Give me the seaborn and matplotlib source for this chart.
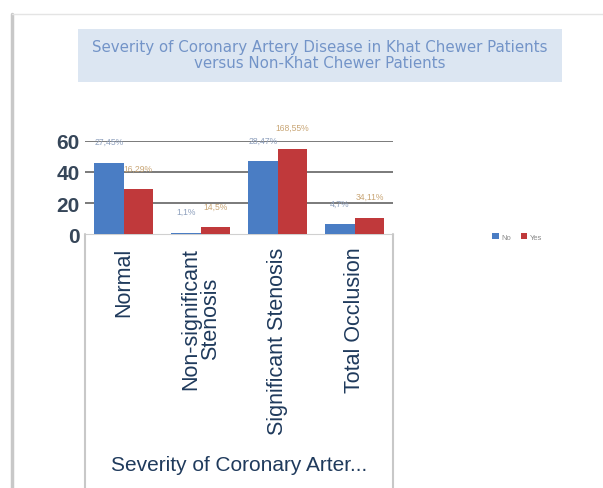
import matplotlib
matplotlib.use('Agg')
import matplotlib.pyplot as plt
import seaborn as sns
import pandas as pd
from matplotlib.lines import Line2D
from matplotlib.patches import Rectangle

# Data
categories = ["Normal", "Non-significant\nStenosis", "Significant Stenosis", "Total Occlusion"]
no_values = [46, 1, 47, 6.5]
yes_values = [29, 4.5, 55, 10.5]
no_labels = ["27,45%", "1,1%", "28,47%", "4,7%"]
yes_labels = ["16,29%", "14,5%", "168,55%", "34,11%"]
groups = ["No", "Yes"]
y_ticks = [0, 20, 40, 60]

df = pd.DataFrame({
    "category": categories * 2,
    "group": [groups[0]] * len(categories) + [groups[1]] * len(categories),
    "value": no_values + yes_values,
})

sns.set_style("white")
plt.rcParams['font.family'] = ['Liberation Sans', 'DejaVu Sans']

fig = plt.figure(figsize=(6.03, 4.89), dpi=100)

# outer frame of the screenshot
fig.add_artist(Line2D([0.020, 0.020], [0.0, 0.970], color="#c8c8c8", lw=2.5))
fig.add_artist(Line2D([0.020, 1.0], [0.970, 0.970], color="#e4e4e4", lw=1))

# title box
fig.add_artist(Rectangle((0.129, 0.830), 0.803, 0.109, facecolor="#dce6f2",
                         edgecolor="none", transform=fig.transFigure))
fig.text(0.530, 0.886, "Severity of Coronary Artery Disease in Khat Chewer Patients\nversus Non-Khat Chewer Patients",
         ha="center", va="center", fontsize=10.8, color="#7394c8", linespacing=1.05,
         family="DejaVu Sans")

ax = fig.add_axes([0.141, 0.519, 0.511, 0.191])
sns.barplot(data=df, x="category", y="value", hue="group", hue_order=groups,
            palette=["#4a7dc4", "#c0393b"], width=0.77, saturation=1,
            linewidth=0, ax=ax, zorder=3)

ax.set_ylim(0, 60)
ax.set_xlim(-0.5, len(categories) - 0.5)
ax.set_yticks(y_ticks)
ax.yaxis.grid(True, color="#7a7a7a", lw=1.4, zorder=0)
ax.set_axisbelow(True)
ax.get_ygridlines()[0].set_visible(False)
for side in ["left", "right", "top"]:
    ax.spines[side].set_visible(False)
ax.spines["bottom"].set_color("#d0d0d0")
ax.tick_params(axis="y", length=0, pad=4, labelsize=15, labelcolor="#364659")
ax.tick_params(axis="x", length=0, pad=9, labelsize=15.5, labelcolor="#1f3a5c")
for lbl in ax.get_xticklabels():
    lbl.set_rotation(90)
    lbl.set_ha("center")
    lbl.set_va("top")
    lbl.set_linespacing(0.95)
for lbl in ax.get_yticklabels():
    lbl.set_fontweight("bold")
ax.set_ylabel("")
ax.set_xlabel("")

# data labels above bars
for container, labels, color in zip(ax.containers, [no_labels, yes_labels], ["#8ea0bd", "#c9a676"]):
    for bar, text in zip(container, labels):
        ax.annotate(text, (bar.get_x() + bar.get_width() / 2, bar.get_height()),
                    xytext=(0, 12), textcoords="offset points", ha="center", va="bottom",
                    fontsize=6.2, color=color, annotation_clip=False)

# frame of the category axis area
fig.add_artist(Line2D([0.141, 0.141], [0.0, 0.519], color="#c8c8c8", lw=1.5))
fig.add_artist(Line2D([0.652, 0.652], [0.0, 0.519], color="#c8c8c8", lw=1.5))

fig.text(0.396, 0.049, "Severity of Coronary Arter...", ha="center", va="center",
         fontsize=15, color="#1f3a5c")

leg = ax.legend(loc="center left", bbox_to_anchor=(1.30, -0.03), ncol=2, frameon=False,
                fontsize=5.5, handlelength=0.8, handleheight=0.8, columnspacing=1.2,
                handletextpad=0.4)
for t in leg.get_texts():
    t.set_color("#8a8a8a")

plt.savefig("out.png", dpi=100)
plt.close()
